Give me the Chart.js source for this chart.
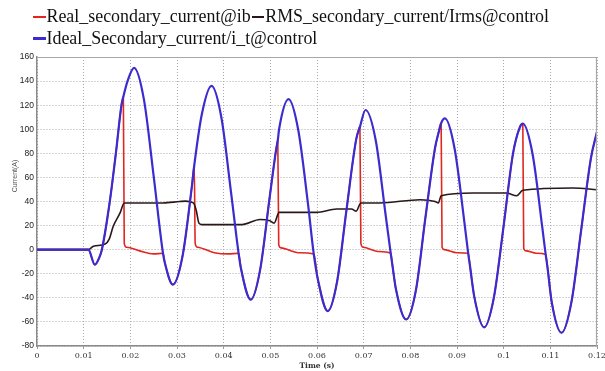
<!DOCTYPE html>
<html>
<head>
<meta charset="utf-8">
<script src="https://cdn.jsdelivr.net/npm/chart.js@4/dist/chart.umd.min.js"></script>
<style>
  html, body { margin: 0; padding: 0; background: #fff; }
  #wrap { position: relative; width: 605px; height: 371px; overflow: hidden; }
  #legend { position: absolute; left: 33px; top: 6px; font-family: "Liberation Serif", serif; font-size: 17.9px; color: #111; line-height: 21.5px; }
  .row { white-space: nowrap; }
  .item { display: inline-block; }
  .mk { display: inline-block; width: 12.5px; height: 2.6px; vertical-align: middle; margin-right: 1px; margin-left: 1px; position: relative; top: -1px; }
  .item:first-child .mk { margin-left: 0; }
</style>
</head>
<body>
<div id="wrap">
  <canvas id="c" width="605" height="371"></canvas>
  <div id="legend"></div>
</div>
<script>
// ---- data ----
const seriesNames = ["Real_secondary_current@ib", "RMS_secondary_current/Irms@control", "Ideal_Secondary_current/i_t@control"];
const legendRows = [[0, 1], [2]];

const xTickLabels = ["0", "0.01", "0.02", "0.03", "0.04", "0.05", "0.06", "0.07", "0.08", "0.09", "0.1", "0.11", "0.12"];

// Ideal secondary current (blue)
const idealT = [0, 0.011, 0.0124, 0.0133, 0.0139, 0.0156, 0.0169, 0.0181, 0.0185, 0.0194, 0.0208,
  0.0229, 0.025, 0.027, 0.0274, 0.0291, 0.0312, 0.0332, 0.0337, 0.0353, 0.0374,
  0.0395, 0.0416, 0.0432, 0.0437, 0.0458, 0.0478, 0.0498, 0.0512, 0.0516, 0.0519, 0.0539,
  0.056, 0.0581, 0.0593, 0.0602, 0.0623, 0.0643, 0.0663, 0.0684, 0.0692, 0.0704,
  0.0726, 0.0747, 0.0758, 0.0762, 0.0769, 0.0791, 0.0812, 0.0832, 0.0853, 0.0861, 0.0866, 0.0874,
  0.0895, 0.0916, 0.0924, 0.0928, 0.0937, 0.0958, 0.0979, 0.1, 0.102, 0.1035, 0.1041,
  0.1062, 0.1083, 0.109, 0.1094, 0.1103, 0.1124, 0.1145, 0.1166, 0.1187, 0.12];
const idealI = [0, 0, -12.5, -7, 0, 40, 80, 120, 127, 140, 151,
  125, 61, -3, -11, -29, -5, 53, 70, 112, 136,
  110, 47, -3, -15.5, -41.5, -17, 41.7, 82, 91, 100.6, 125,
  99, 37, -3.5, -25, -51, -26.6, 32.5, 91.6, 102, 116,
  90.5, 29, -3, -14, -32.5, -58, -33.6, 25.5, 84.6, 98, 105, 109,
  83.6, 22.3, -3, -14, -39, -64.5, -39.8, 20, 79.8, 102, 104.6,
  79.2, 17.8, -4, -15, -43.6, -69, -44, 16, 76, 98];

// Real secondary current (red)
const realT = [0, 0.011, 0.0124, 0.0133, 0.0139, 0.0156, 0.0169, 0.0181, 0.0185, 0.0187, 0.0192, 0.022, 0.025,
  0.027, 0.0274, 0.0291, 0.0312, 0.0332, 0.0337, 0.0339, 0.0344, 0.038, 0.041,
  0.0432, 0.0437, 0.0458, 0.0478, 0.0498, 0.0512, 0.0516, 0.0518, 0.0523, 0.056,
  0.0593, 0.0602, 0.0623, 0.0643, 0.0663, 0.0684, 0.0692, 0.0694, 0.0699, 0.073,
  0.0758, 0.0762, 0.0769, 0.0791, 0.0812, 0.0832, 0.0853, 0.0861, 0.0866, 0.0868, 0.0873, 0.09,
  0.0924, 0.0928, 0.0937, 0.0958, 0.0979, 0.1, 0.102, 0.1035, 0.1041, 0.1043, 0.1048, 0.107,
  0.109, 0.1094, 0.1103, 0.1124, 0.1145, 0.1166, 0.1187, 0.12];
const realI = [0, 0, -12.5, -7, 0, 40, 80, 120, 127, 5, 2, -1, -3.5,
  -3, -11, -29, -5, 53, 70, 5, 2, -2.5, -3.5,
  -3, -15.5, -41.5, -17, 41.7, 82, 91, 4, 1.5, -2.5,
  -3.5, -25, -51, -26.6, 32.5, 91.6, 102, 5, 2, -1.5,
  -3, -14, -32.5, -58, -33.6, 25.5, 84.6, 98, 105, 2, 0, -2.5,
  -3, -14, -39, -64.5, -39.8, 20, 79.8, 102, 104.6, 1, -1, -3,
  -4, -15, -43.6, -69, -44, 16, 76, 98];

// RMS secondary current (dark)
const rmsT = [0, 0.011, 0.0121, 0.0146, 0.0155, 0.0163, 0.0178, 0.0187, 0.027, 0.0306, 0.0318, 0.0335,
  0.0341, 0.0347, 0.0353, 0.0439, 0.0478, 0.0499, 0.0508, 0.0519, 0.0599, 0.0642, 0.0674,
  0.0684, 0.0694, 0.0735, 0.0821, 0.0853, 0.086, 0.0866, 0.0935, 0.1006, 0.1028, 0.1041, 0.1149, 0.12];
const rmsI = [0, 0, 2.8, 4.7, 9, 19, 30.5, 38.8, 38.8, 40, 40.3, 38.8,
  33, 22, 20.8, 20.8, 25, 24, 22, 31, 31, 33.8, 33.8,
  32, 38.8, 38.8, 41.5, 40, 38.8, 44.8, 47, 47, 44.8, 49.3, 51.2, 49.8];

const colors = ["#e2261f", "#2a1818", "#3a2ccf"];

const toPts = (t, v) => t.map((x, i) => ({ x: x, y: v[i] }));

// ---- legend (HTML) ----
const lg = document.getElementById('legend');
legendRows.forEach(r => {
  const row = document.createElement('div');
  row.className = 'row';
  r.forEach(i => {
    const it = document.createElement('span');
    it.className = 'item';
    const mk = document.createElement('span');
    mk.className = 'mk';
    mk.style.background = colors[i];
    it.appendChild(mk);
    it.appendChild(document.createTextNode(seriesNames[i]));
    row.appendChild(it);
  });
  lg.appendChild(row);
});

const frame = {
  id: 'frame',
  afterDatasetsDraw(chart) {
    const a = chart.chartArea, ctx = chart.ctx;
    ctx.save();
    ctx.strokeStyle = '#a8a8a8';
    ctx.lineWidth = 1.2;
    ctx.beginPath();
    ctx.moveTo(a.left, a.top + 0.5);
    ctx.lineTo(a.right - 0.5, a.top + 0.5);
    ctx.lineTo(a.right - 0.5, a.bottom);
    ctx.stroke();
    ctx.restore();
  },
  afterDraw(chart) {
    const ctx = chart.ctx;
    ctx.save();
    ctx.translate(15, 176);
    ctx.rotate(-Math.PI / 2);
    ctx.fillStyle = '#555';
    ctx.font = '7px "Liberation Sans"';
    ctx.textAlign = 'center';
    ctx.textBaseline = 'middle';
    ctx.fillText('Current(A)', 0, 0);
    ctx.restore();
  }
};

new Chart(document.getElementById('c'), {
  type: 'line',
  data: {
    datasets: [
      { label: seriesNames[2], data: toPts(idealT, idealI), borderColor: colors[2], borderWidth: 2.2, order: 0 },
      { label: seriesNames[1], data: toPts(rmsT, rmsI), borderColor: colors[1], borderWidth: 1.6, order: 1 },
      { label: seriesNames[0], data: toPts(realT, realI), borderColor: colors[0], borderWidth: 1.6, order: 2 }
    ]
  },
  options: {
    responsive: false,
    animation: false,
    elements: {
      point: { radius: 0 },
      line: { cubicInterpolationMode: 'monotone', fill: false }
    },
    layout: { padding: { top: 57, right: 8, left: 0, bottom: 0 } },
    plugins: { legend: { display: false }, tooltip: { enabled: false } },
    scales: {
      x: {
        type: 'linear', min: 0, max: 0.12,
        ticks: {
          stepSize: 0.01, autoSkip: false, maxRotation: 0, padding: 2,
          color: '#333', font: { family: 'DejaVu Serif', size: 8 },
          callback: (v, i) => xTickLabels[i]
        },
        grid: { color: '#a9a9a9', tickLength: 3, tickColor: '#999', lineWidth: 1 },
        border: { color: '#8a8a8a', width: 1.5, dash: [1, 2] },
        title: { display: true, text: 'Time (s)', color: '#333', font: { family: 'DejaVu Serif', size: 7.5, weight: 'bold', lineHeight: 1.2 }, padding: { top: 0, bottom: 0 } },
        afterFit(s) { s.height = 25; s.paddingLeft = 0; s.paddingRight = 0; }
      },
      y: {
        min: -80, max: 160,
        ticks: { stepSize: 20, padding: 3, color: '#222', font: { family: 'Liberation Sans', size: 8.5 } },
        grid: { color: '#a9a9a9', drawTicks: false, lineWidth: 1 },
        border: { color: '#8a8a8a', width: 1.5, dash: [1, 2] },
        afterFit(s) { s.width = 37; s.paddingTop = 0; s.paddingBottom = 0; }
      }
    }
  },
  plugins: [frame]
});
</script>
</body>
</html>
